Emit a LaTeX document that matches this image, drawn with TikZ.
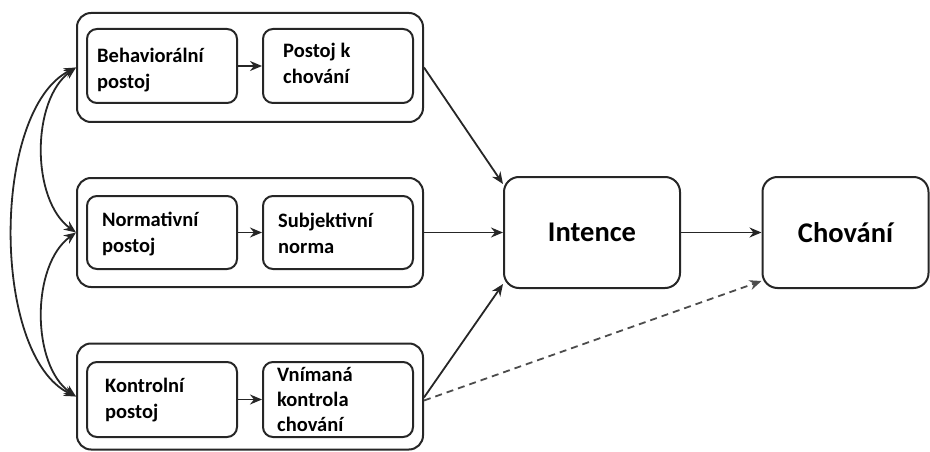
\documentclass[tikz,border=0pt]{standalone}
\usepackage{fontspec}
\setmainfont{Carlito}
\usetikzlibrary{arrows.meta,calc}
\begin{document}
\begin{tikzpicture}[x=1pt,y=-1pt,
  boxline/.style={draw=black!85, line width=2pt},
  outerbox/.style={boxline, rectangle, rounded corners=14pt, minimum width=346pt, inner sep=0pt},
  innerbox/.style={boxline, rectangle, rounded corners=10pt, minimum width=150pt, inner sep=0pt},
  bigbox/.style={boxline, rectangle, rounded corners=15pt, inner sep=0pt, minimum height=111pt,
     font=\fontsize{28.5}{32}\selectfont\bfseries},
  lbl/.style={anchor=base west, inner sep=0pt, font=\fontsize{20.5}{25}\selectfont\bfseries},
  arr/.style={line width=1.8pt, draw=black!85, -{Stealth[length=12pt,width=10pt]}},
  darr/.style={line width=1.8pt, draw=black!85, {Stealth[length=12pt,width=10pt]}-{Stealth[length=12pt,width=10pt]}},
  dasharr/.style={arr, dash pattern=on 7pt off 5pt, draw=black!70}]
\useasboundingbox (0,0) rectangle (930,452);
% groups
\node[outerbox, minimum height=109pt] (g1) at (250,67.5) {};
\node[outerbox, minimum height=109pt] (g2) at (250,232.5) {};
\node[outerbox, minimum height=106pt] (g3) at (250,396.5) {};
% inner boxes
\node[innerbox, minimum height=74pt] (a1) at (162,66) {};
\node[innerbox, minimum height=74pt] (b1) at (338,66) {};
\node[innerbox, minimum height=73pt] (a2) at (162,232.5) {};
\node[innerbox, minimum height=73pt] (b2) at (338,232.5) {};
\node[innerbox, minimum height=75pt] (a3) at (162,399.5) {};
\node[innerbox, minimum height=75pt] (b3) at (338,399.5) {};
% labels
\node[lbl] (ta1) at (97,63) {\vtop{\baselineskip=26pt\hbox{Behaviorální}\hbox{postoj}}};
\node[lbl] (tb1) at (283,58) {\vtop{\baselineskip=26pt\hbox{Postoj k}\hbox{chování}}};
\node[lbl] (ta2) at (102,226) {\vtop{\baselineskip=26pt\hbox{Normativní}\hbox{postoj}}};
\node[lbl] (tb2) at (278,227) {\vtop{\baselineskip=26pt\hbox{Subjektivní}\hbox{norma}}};
\node[lbl] (ta3) at (105,392) {\vtop{\baselineskip=26pt\hbox{Kontrolní}\hbox{postoj}}};
\node[lbl] (tb3) at (277,381) {\vtop{\baselineskip=25pt\hbox{Vnímaná}\hbox{kontrola}\hbox{chování}}};
% big boxes
\node[bigbox, minimum width=176pt] (int) at (592,232.5) {Intence};
\node[bigbox, minimum width=166pt] (cho) at (845.5,232.5) {Chování};
% inner arrows
\draw[arr] (a1) -- (b1);
\draw[arr] (a2) -- (b2);
\draw[arr] (a3) -- (b3);
% to intence
\draw[arr] (g1.east) -- ($(int.north west)+(0,8)$);
\draw[arr] (g2.east) -- (int.west);
\draw[arr] ($(g3.east)+(0,1)$) -- ($(int.south west)+(0,-5)$);
\draw[arr] (int) -- (cho);
\draw[dasharr] ($(g3.east)+(0,4)$) -- ($(cho.south west)+(0,-8)$);
% correlations
\draw[darr] (g1.west) .. controls (31,100) and (31,200) .. (g2.west);
\draw[darr] (g2.west) .. controls (31,265) and (31,365) .. (g3.west);
\draw[darr] (g1.west) .. controls (-9,110) and (-9,356) .. (g3.west);
\end{tikzpicture}
\end{document}
